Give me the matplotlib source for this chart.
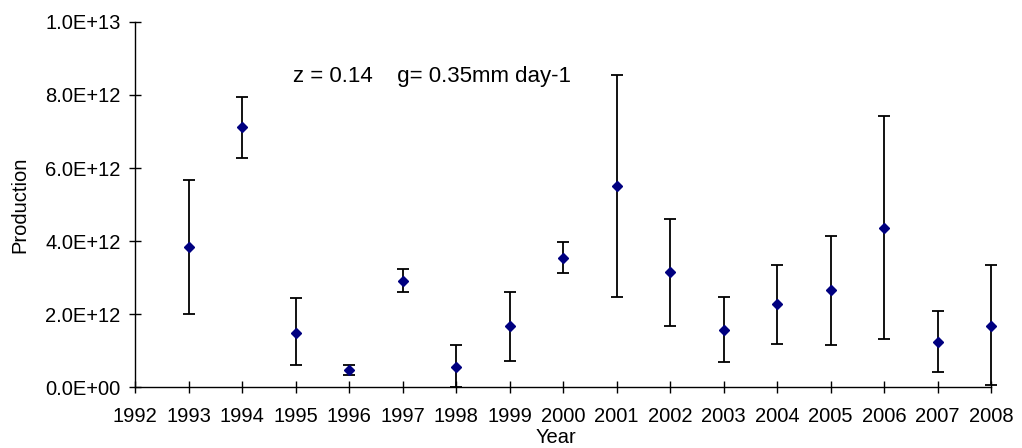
import matplotlib
matplotlib.use('Agg')
import matplotlib.pyplot as plt
import matplotlib.ticker as mtick

plt.rcParams['font.family'] = ['Liberation Sans', 'DejaVu Sans']

# values (units of 1e12)
years = [1993, 1994, 1995, 1996, 1997, 1998, 1999, 2000,
         2001, 2002, 2003, 2004, 2005, 2006, 2007, 2008]
production = [3.84, 7.13, 1.49, 0.47, 2.90, 0.55, 1.66, 3.54,
              5.51, 3.16, 1.57, 2.27, 2.65, 4.36, 1.23, 1.66]
upper = [5.67, 7.95, 2.43, 0.59, 3.24, 1.15, 2.60, 3.96,
         8.56, 4.61, 2.47, 3.33, 4.14, 7.43, 2.09, 3.33]
lower = [2.01, 6.28, 0.59, 0.34, 2.60, 0.00, 0.72, 3.12,
         2.47, 1.66, 0.68, 1.19, 1.15, 1.32, 0.42, 0.05]

scale = 1e12
y = [v * scale for v in production]
err_lo = [(p - l) * scale for p, l in zip(production, lower)]
err_hi = [(u - p) * scale for p, u in zip(production, upper)]

fig = plt.figure(figsize=(10.22, 4.48), dpi=100)
ax = fig.add_axes([135 / 1022, 61 / 448, 856 / 1022, 365 / 448])

ax.errorbar(years, y, yerr=[err_lo, err_hi], fmt='D', color='#000080',
            markersize=5.5, ecolor='black', elinewidth=1.3, capsize=4.3,
            capthick=1.3, zorder=3, clip_on=False)

ax.set_xlim(1992, 2008)
ax.set_ylim(0, 1e13)
ax.set_xticks(range(1992, 2009))
ax.set_yticks([0, 2e12, 4e12, 6e12, 8e12, 1e13])
ax.yaxis.set_major_formatter(mtick.FuncFormatter(
    lambda v, pos: f"{v:.1E}" if v else "0.0E+00"))

for s in ['top', 'right']:
    ax.spines[s].set_visible(False)
for s in ['left', 'bottom']:
    ax.spines[s].set_linewidth(1.0)

ax.tick_params(axis='both', direction='inout', length=9, width=1.0,
               labelsize=14.5)
ax.tick_params(axis='x', pad=10)
ax.tick_params(axis='y', pad=6)

ax.set_ylabel('Production', fontsize=14.5, labelpad=11)
ax.set_xlabel('Year', fontsize=14.5)
ax.xaxis.set_label_coords((556 - 135) / 856, -0.112)

ax.text(1994.96, 8.5e12, 'z = 0.14    g= 0.35mm day-1', fontsize=16,
        ha='left', va='center')

fig.savefig('out.png', dpi=100)
